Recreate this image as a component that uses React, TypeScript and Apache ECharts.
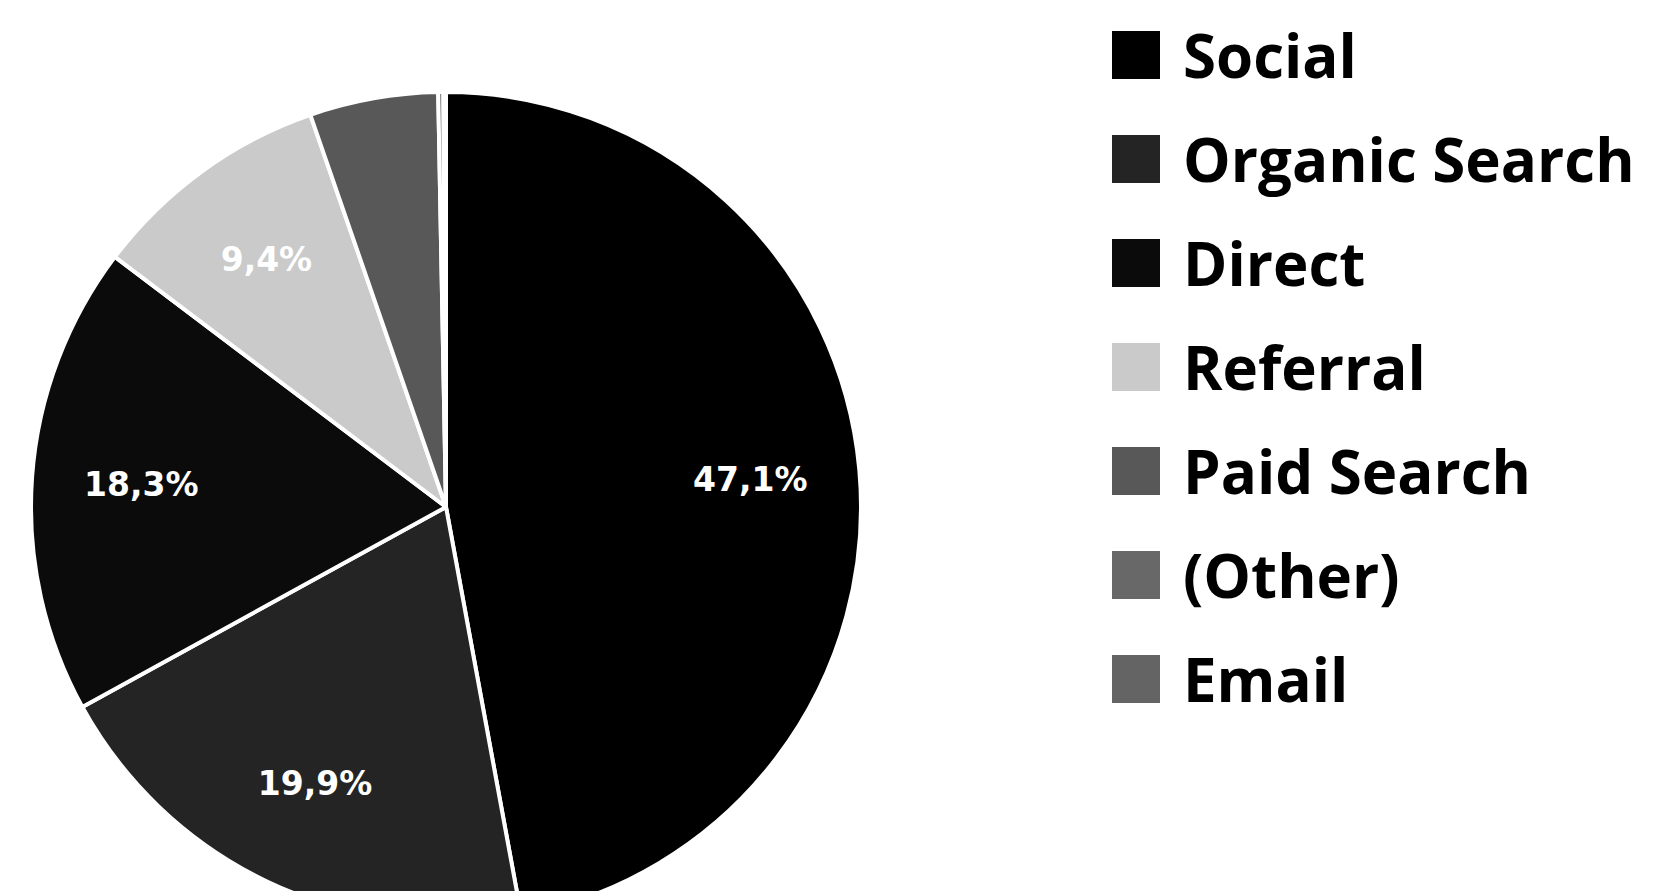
import React, { useEffect, useRef } from "react";
import * as echarts from "echarts";

const categories = ["Social", "Organic Search", "Direct", "Referral", "Paid Search", "(Other)", "Email"];
const shares = [47.1, 19.9, 18.3, 9.4, 5.0, 0.2, 0.1];
const sliceLabels = ["47,1%", "19,9%", "18,3%", "9,4%", "", "", ""];
const sliceColors = ["#000000", "#242424", "#0b0b0b", "#cacaca", "#585858", "#686868", "#646464"];

export default function App() {
  const ref = useRef<HTMLDivElement>(null);
  useEffect(() => {
    if (!ref.current) return;
    const chart = echarts.init(ref.current, null, { renderer: "svg" });
    const data = categories.map((name, i) => ({
      name,
      value: shares[i],
      itemStyle: { color: sliceColors[i] },
    }));
    chart.setOption({
      animation: false,
      backgroundColor: "#ffffff",
      legend: {
        orient: "vertical",
        left: 1110,
        top: 25,
        padding: 0,
        itemWidth: 50,
        itemHeight: 50,
        itemGap: 44,
        icon: "rect",
        data: categories,
        selectedMode: false,
        textStyle: {
          fontSize: 60,
          fontFamily: "Open Sans",
          fontWeight: "bold",
          color: "#000",
          padding: [0, 0, 0, 17],
        },
      },
      series: [
        {
          type: "pie",
          center: [446, 507],
          radius: 415,
          startAngle: 90,
          clockwise: true,
          avoidLabelOverlap: false,
          label: { show: false },
          labelLine: { show: false },
          emphasis: { disabled: true },
          itemStyle: { borderColor: "#ffffff", borderWidth: 4 },
          data,
        },
        {
          type: "pie",
          center: [446, 507],
          radius: [190, 415],
          startAngle: 90,
          clockwise: true,
          silent: true,
          avoidLabelOverlap: false,
          labelLine: { show: false },
          emphasis: { disabled: true },
          itemStyle: { color: "transparent", borderWidth: 0 },
          label: {
            show: true,
            position: "inside",
            color: "#ffffff",
            fontSize: 33,
            fontWeight: "bold",
            fontFamily: "DejaVu Sans",
            formatter: (p: any) => sliceLabels[p.dataIndex],
          },
          data: categories.map((name, i) => ({ name, value: shares[i] })),
        },
      ],
    });
    return () => chart.dispose();
  }, []);
  return (
    <div
      ref={ref}
      style={{ position: "fixed", left: 0, top: 0, width: 1656, height: 891 }}
    />
  );
}
